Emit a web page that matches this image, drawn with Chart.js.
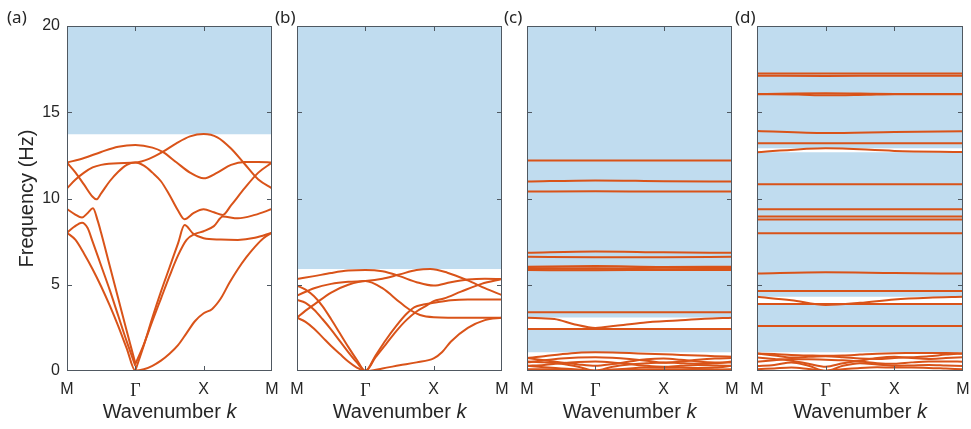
<!DOCTYPE html>
<html>
<head>
<meta charset="utf-8">
<script src="https://cdn.jsdelivr.net/npm/chart.js@4.4.0/dist/chart.umd.min.js"></script>
<style>
  body { margin: 0; background: #fff; }
  #wrap { position: relative; width: 971px; height: 429px; overflow: hidden; }
  .panel { position: absolute; top: 0; height: 429px; }
  .tag { position: absolute; top: 5px; line-height: 23px; font-size: 17px; font-family: 'Noto Sans', sans-serif; color: #262626; }
</style>
</head>
<body>
<div id="wrap"></div>
<script>
// axis ticks
const kTicks = [0, 1, 2, 3];
const kLabels = ['M', 'Γ', 'X', 'M'];
const freqTicks = [0, 5, 10, 15, 20];
const panelTags = ['(a)', '(b)', '(c)', '(d)'];

// band gaps (shaded), [low, high] in Hz
const gapsA = [[13.72, 20]];
const gapsB = [[5.91, 20]];
const gapsC = [[1.08, 2.45], [3.1, 20]];
const gapsD = [[1.08, 3.83], [4.3, 12.68], [12.92, 20]];

// dispersion curves, [k, f] pairs, M-Γ-X-M path
const bandsA = [
  [[0,8.02],[0.125,7.6],[0.25,6.8],[0.375,5.9],[0.5,4.9],[0.625,3.8],[0.75,2.6],[0.875,1.3],[1,0.02],[1.125,0.1],[1.25,0.3],[1.375,0.6],[1.5,1.0],[1.625,1.5],[1.75,2.2],[1.875,2.9],[2,3.35],[2.125,3.6],[2.25,4.2],[2.375,5.1],[2.5,5.9],[2.625,6.6],[2.75,7.2],[2.875,7.7],[3,8.02]],
  [[0,8.02],[0.1,8.35],[0.22,8.6],[0.3,8.3],[0.375,7.5],[0.5,6.1],[0.625,4.7],[0.75,3.2],[0.875,1.7],[1,0.3]],
  [[0,9.39],[0.11,9.1],[0.22,8.9],[0.3,9.15],[0.38,9.43],[0.45,8.7],[0.5,8.0],[0.625,6.1],[0.75,4.2],[0.875,2.3],[1,0.45]],
  [[1,0.02],[1.125,1.5],[1.25,3.1],[1.375,4.6],[1.5,6.0],[1.625,7.4],[1.72,8.46],[1.85,7.95],[2,7.7],[2.25,7.62],[2.5,7.6],[2.75,7.72],[3,8.02]],
  [[1,0.4],[1.125,1.55],[1.25,2.9],[1.375,4.2],[1.5,5.5],[1.625,6.7],[1.75,7.6],[1.875,7.95],[2,8.1],[2.15,8.4],[2.28,8.95],[2.5,8.85],[2.75,9.05],[3,9.39]],
  [[0,12.08],[0.25,12.35],[0.5,12.7],[0.75,13.0],[1,13.1],[1.25,12.95],[1.4,12.7],[1.6,12.1],[1.8,11.5],[2,11.17],[2.2,11.5],[2.4,11.95],[2.6,12.12],[2.8,12.12],[3,12.08]],
  [[0,10.59],[0.125,11.1],[0.25,11.5],[0.375,11.8],[0.5,11.95],[0.75,12.05],[1,12.08],[1.2,12.3],[1.4,12.7],[1.6,13.2],[1.8,13.6],[2,13.74],[2.2,13.55],[2.4,12.9],[2.6,12.0],[2.8,11.1],[3,10.59]],
  [[0,12.08],[0.125,11.5],[0.25,10.8],[0.375,10.1],[0.43,9.95],[0.5,10.3],[0.625,11.0],[0.75,11.55],[0.875,11.95],[1,12.08],[1.125,11.9],[1.25,11.5],[1.375,11.0],[1.5,10.2],[1.625,9.3],[1.72,8.8],[1.85,9.15],[2,9.37],[2.15,9.2],[2.28,9.05],[2.4,9.6],[2.6,10.6],[2.8,11.5],[3,12.08]]
];

const bandsB = [
  [[0,3.09],[0.125,2.85],[0.25,2.45],[0.375,1.95],[0.5,1.45],[0.625,1.0],[0.75,0.55],[0.875,0.2],[1,0],[1.25,0.15],[1.5,0.33],[1.75,0.5],[2,0.73],[2.125,1.1],[2.25,1.7],[2.5,2.5],[2.75,2.95],[3,3.09]],
  [[0,3.09],[0.125,3.5],[0.25,3.85],[0.5,4.55],[0.75,5.0],[1,5.22],[1.25,4.8],[1.5,4.0],[1.65,3.55],[1.8,3.25],[2,3.12],[2.5,3.08],[3,3.09]],
  [[0,4.12],[0.125,3.95],[0.25,3.55],[0.375,3.0],[0.5,2.4],[0.625,1.75],[0.75,1.1],[0.875,0.5],[1,0],[1.15,0.9],[1.3,1.8],[1.45,2.6],[1.6,3.3],[1.72,3.7],[1.85,3.85],[2,3.95],[2.25,4.1],[2.5,4.15],[3,4.15]],
  [[0,4.95],[0.125,4.72],[0.25,4.33],[0.375,3.75],[0.5,3.0],[0.625,2.2],[0.75,1.4],[0.875,0.65],[1,0],[1.15,0.8],[1.3,1.55],[1.45,2.3],[1.6,2.95],[1.75,3.45],[1.9,3.8],[2,4.05],[2.15,4.2],[2.4,4.6],[2.7,5.05],[3,5.33]],
  [[0,4.37],[0.25,4.8],[0.5,5.05],[0.75,5.17],[1,5.22],[1.25,5.35],[1.5,5.6],[1.75,5.85],[1.95,5.91],[2.2,5.7],[2.5,5.25],[2.75,4.8],[3,4.4]],
  [[0,5.33],[0.25,5.5],[0.5,5.68],[0.75,5.82],[1,5.86],[1.25,5.78],[1.5,5.5],[1.75,5.15],[2,4.95],[2.25,5.15],[2.5,5.3],[2.75,5.35],[3,5.33]]
];

const bandsC = [
  [[0,12.2],[1,12.2],[2,12.2],[3,12.2]],
  [[0,10.98],[1,11.05],[2,11.0],[3,10.98]],
  [[0,10.4],[1,10.42],[2,10.4],[3,10.4]],
  [[0,6.85],[1,6.93],[2,6.88],[3,6.85]],
  [[0,6.62],[1,6.6],[2,6.6],[3,6.62]],
  [[0,6.05],[1,6.08],[2,6.03],[3,6.05]],
  [[0,5.97],[1,5.93],[2,5.98],[3,5.97]],
  [[0,5.9],[1,5.95],[2,5.88],[3,5.9]],
  [[0,5.85],[1,5.84],[2,5.86],[3,5.85]],
  [[0,3.4],[1,3.4],[2,3.4],[3,3.4]],
  [[0,3.09],[0.4,3.02],[0.7,2.7],[1,2.5],[1.3,2.62],[1.7,2.8],[2.2,2.93],[2.6,3.03],[3,3.09]],
  [[0,2.43],[1,2.43],[2,2.43],[3,2.43]],
  [[0,0.75],[0.25,0.85],[0.5,0.97],[0.75,1.06],[1,1.08],[1.25,1.07],[1.5,1.04],[1.75,1.0],[2,0.97],[2.25,0.93],[2.5,0.9],[2.75,0.86],[3,0.83]],
  [[0,0.75],[0.25,0.62],[0.5,0.5],[0.75,0.38],[1,0.3],[1.25,0.4],[1.5,0.55],[1.75,0.68],[2,0.72],[2.25,0.65],[2.5,0.55],[2.75,0.5],[3,0.5]],
  [[0,0.5],[0.25,0.62],[0.5,0.72],[0.75,0.78],[1,0.8],[1.25,0.77],[1.5,0.7],[1.75,0.6],[2,0.48],[2.25,0.55],[2.5,0.65],[2.75,0.72],[3,0.75]],
  [[0,0.3],[0.25,0.35],[0.5,0.45],[0.75,0.52],[1,0.55],[1.25,0.5],[1.5,0.4],[1.75,0.3],[2,0.25],[2.25,0.3],[2.5,0.35],[2.75,0.32],[3,0.3]],
  [[0,0.3],[0.25,0.22],[0.5,0.15],[0.75,0.08],[1,0],[1.25,0.08],[1.5,0.15],[1.75,0.2],[2,0.22],[2.25,0.2],[2.5,0.18],[2.75,0.2],[3,0.3]],
  [[0,0.55],[0.25,0.5],[0.5,0.42],[0.75,0.25],[1,0.02],[1.25,0.25],[1.5,0.38],[1.75,0.45],[2,0.5],[2.25,0.45],[2.5,0.42],[2.75,0.45],[3,0.55]],
  [[0,0.1],[0.5,0.08],[1,0.03],[1.5,0.06],[2,0.1],[2.5,0.08],[3,0.1]]
];

const bandsD = [
  [[0,17.25],[1,17.25],[2,17.25],[3,17.25]],
  [[0,17.12],[1,17.1],[2,17.12],[3,17.12]],
  [[0,16.06],[1,16.1],[2,16.06],[3,16.06]],
  [[0,16.05],[0.6,16.03],[1,15.98],[1.6,16.02],[2,16.05],[3,16.05]],
  [[0,13.92],[1,13.8],[2,13.86],[3,13.9]],
  [[0,13.2],[1,13.2],[2,13.2],[3,13.2]],
  [[0,12.68],[1,12.92],[2,12.76],[3,12.7]],
  [[0,10.82],[1,10.82],[2,10.82],[3,10.82]],
  [[0,9.37],[1,9.37],[2,9.37],[3,9.37]],
  [[0,8.95],[1,8.95],[2,8.95],[3,8.95]],
  [[0,8.78],[1,8.78],[2,8.78],[3,8.78]],
  [[0,7.98],[1,7.98],[2,7.98],[3,7.98]],
  [[0,5.65],[1,5.72],[2,5.68],[3,5.65]],
  [[0,4.64],[1,4.64],[2,4.64],[3,4.64]],
  [[0,4.3],[0.5,4.1],[1,3.83],[1.5,3.95],[2,4.15],[2.5,4.25],[3,4.3]],
  [[0,3.88],[1,3.88],[2,3.88],[3,3.88]],
  [[0,2.61],[1,2.61],[2,2.61],[3,2.61]],
  [[0,1.02],[0.25,0.98],[0.5,0.93],[0.75,0.9],[1,0.88],[1.25,0.9],[1.5,0.95],[1.75,1.0],[2,1.03],[2.25,1.04],[2.5,1.05],[2.75,1.04],[3,1.02]],
  [[0,1.02],[0.25,0.9],[0.5,0.78],[0.75,0.82],[1,0.85],[1.25,0.8],[1.5,0.72],[1.75,0.7],[2,0.75],[2.25,0.8],[2.5,0.85],[2.75,0.95],[3,1.02]],
  [[0,0.79],[0.25,0.7],[0.5,0.6],[0.75,0.42],[1,0.25],[1.25,0.45],[1.5,0.6],[1.75,0.75],[2,0.82],[2.25,0.75],[2.5,0.7],[2.75,0.75],[3,0.79]],
  [[0,0.54],[0.25,0.62],[0.5,0.7],[0.75,0.68],[1,0.65],[1.25,0.62],[1.5,0.55],[1.75,0.45],[2,0.42],[2.25,0.5],[2.5,0.55],[2.75,0.55],[3,0.54]],
  [[0,0.29],[0.25,0.35],[0.5,0.5],[0.75,0.3],[1,0],[1.25,0.3],[1.5,0.45],[1.75,0.38],[2,0.3],[2.25,0.32],[2.5,0.35],[2.75,0.32],[3,0.29]],
  [[0,0.1],[0.25,0.15],[0.5,0.2],[0.75,0.12],[1,0.02],[1.25,0.1],[1.5,0.18],[1.75,0.22],[2,0.2],[2.25,0.2],[2.5,0.18],[2.75,0.14],[3,0.1]]
];

const LINE = '#d95319';
const SHADE = 'rgb(192,220,239)';
const AXIS = '#4f5861';
const TEXT = '#262626';

const framePlugin = {
  id: 'frame',
  afterDraw(chart) {
    const { ctx, chartArea: a, scales: { x, y } } = chart;
    ctx.save();
    ctx.strokeStyle = AXIS;
    ctx.lineWidth = 1;
    ctx.strokeRect(a.left + 0.5, a.top + 0.5, a.right - a.left - 1, a.bottom - a.top - 1);
    ctx.beginPath();
    kTicks.slice(1, -1).forEach(k => {
      const px = Math.round(x.getPixelForValue(k)) + 0.5;
      ctx.moveTo(px, a.bottom); ctx.lineTo(px, a.bottom - 5);
      ctx.moveTo(px, a.top); ctx.lineTo(px, a.top + 5);
    });
    freqTicks.slice(1, -1).forEach(f => {
      const py = Math.round(y.getPixelForValue(f)) + 0.5;
      ctx.moveTo(a.left, py); ctx.lineTo(a.left + 5, py);
      ctx.moveTo(a.right, py); ctx.lineTo(a.right - 5, py);
    });
    ctx.stroke();

    // x axis title with italic k
    const cx = (a.left + a.right) / 2;
    ctx.fillStyle = TEXT;
    ctx.textBaseline = 'middle';
    ctx.textAlign = 'left';
    ctx.font = '20px "Liberation Sans"';
    const w1 = ctx.measureText('Wavenumber ').width;
    ctx.font = 'italic 20px "Liberation Sans"';
    const w2 = ctx.measureText('k').width;
    const sx = cx - (w1 + w2) / 2;
    ctx.font = '20px "Liberation Sans"';
    ctx.fillText('Wavenumber ', sx, 412);
    ctx.font = 'italic 20px "Liberation Sans"';
    ctx.fillText('k', sx + w1, 412);
    ctx.restore();
  }
};

const panels = [
  { bands: bandsA, gaps: gapsA, plotLeft: 67, plotRight: 272, tagLeft: 7, yAxis: true },
  { bands: bandsB, gaps: gapsB, plotLeft: 297, plotRight: 502, tagLeft: 275, yAxis: false },
  { bands: bandsC, gaps: gapsC, plotLeft: 527, plotRight: 732, tagLeft: 504, yAxis: false },
  { bands: bandsD, gaps: gapsD, plotLeft: 757, plotRight: 963, tagLeft: 735, yAxis: false }
];

const wrap = document.getElementById('wrap');

panels.forEach((p, i) => {
  const padL = p.yAxis ? 0 : 14;
  const padR = 8;
  const left = p.yAxis ? 0 : p.plotLeft - padL;
  const div = document.createElement('div');
  div.className = 'panel';
  div.style.left = left + 'px';
  div.style.width = (p.plotRight + padR - left) + 'px';
  const canvas = document.createElement('canvas');
  div.appendChild(canvas);
  wrap.appendChild(div);

  const tag = document.createElement('div');
  tag.className = 'tag';
  tag.style.left = p.tagLeft + 'px';
  tag.textContent = panelTags[i];
  wrap.appendChild(tag);

  const gapSets = p.gaps.map(g => ({
    data: [{ x: 0, y: g[1] }, { x: 3, y: g[1] }],
    fill: { value: g[0] },
    backgroundColor: SHADE,
    borderWidth: 0,
    pointRadius: 0,
    order: 10
  }));
  const bandSets = p.bands.map(b => ({
    data: b.map(pt => ({ x: pt[0], y: pt[1] })),
    borderColor: LINE,
    borderWidth: 2,
    pointRadius: 0,
    fill: false,
    cubicInterpolationMode: 'monotone',
    order: 1
  }));

  new Chart(canvas, {
    type: 'line',
    data: { datasets: [...bandSets, ...gapSets] },
    options: {
      responsive: true,
      maintainAspectRatio: false,
      animation: false,
      layout: { padding: { top: 26, bottom: 0, left: padL, right: padR } },
      plugins: { legend: { display: false }, tooltip: { enabled: false } },
      scales: {
        x: {
          type: 'linear', min: 0, max: 3,
          grid: { display: false, drawTicks: false },
          border: { display: false },
          afterBuildTicks: s => { s.ticks = kTicks.map(v => ({ value: v })); },
          afterFit: s => { s.height = 58; s.paddingLeft = 0; s.paddingRight = 0; },
          ticks: {
            padding: 9, color: TEXT, autoSkip: false, maxRotation: 0,
            callback: (v, idx) => kLabels[idx],
            font: c => c.index === 1 ? { family: 'Liberation Serif', size: 18 } : { family: 'Liberation Sans', size: 16 }
          }
        },
        y: {
          display: p.yAxis,
          min: 0, max: 20,
          grid: { display: false, drawTicks: false },
          border: { display: false },
          afterBuildTicks: s => { s.ticks = freqTicks.map(v => ({ value: v })); },
          afterFit: s => { s.width = p.yAxis ? 67 : 0; s.paddingTop = 0; s.paddingBottom = 0; },
          ticks: { padding: 7, color: TEXT, font: { family: 'Liberation Sans', size: 16 } },
          title: {
            display: true, text: 'Frequency (Hz)', color: TEXT,
            font: { family: 'Liberation Sans', size: 20 },
            padding: { top: 15, bottom: 0 }
          }
        }
      }
    },
    plugins: [framePlugin]
  });
});
</script>
</body>
</html>
